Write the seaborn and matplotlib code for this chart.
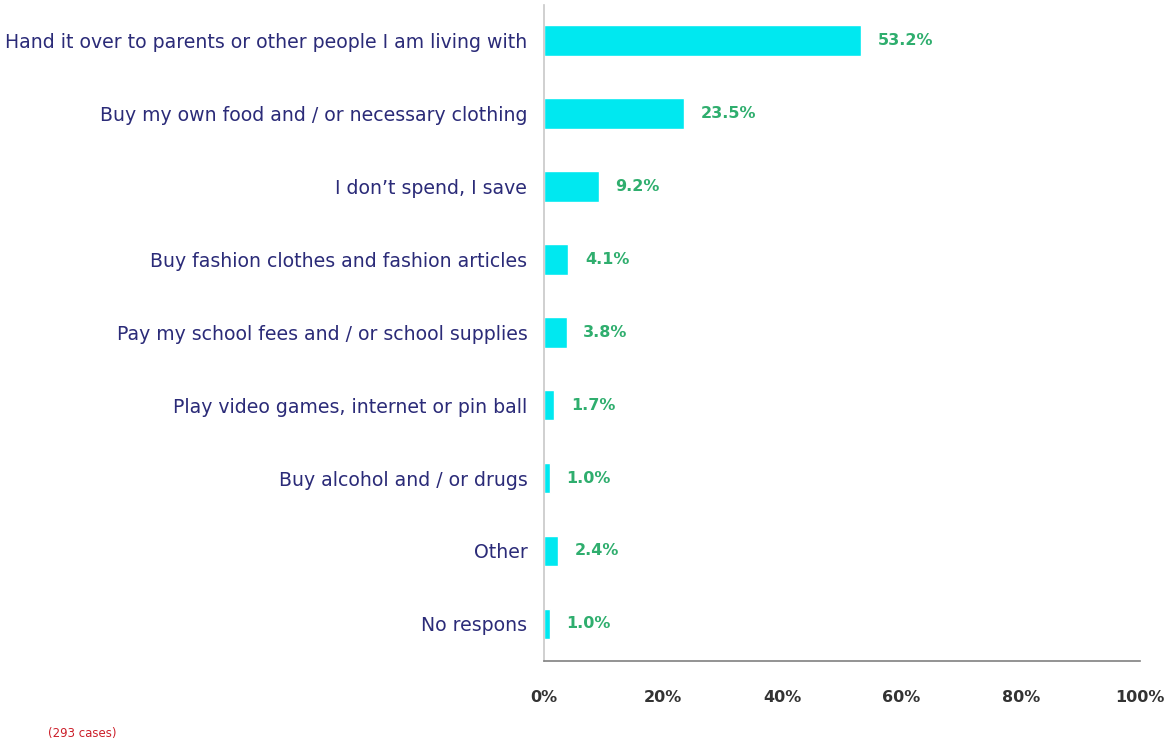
import matplotlib
matplotlib.use("Agg")
import matplotlib.pyplot as plt
import seaborn as sns
import pandas as pd

categories = [
    "Hand it over to parents or other people I am living with",
    "Buy my own food and / or necessary clothing",
    "I don\u2019t spend, I save",
    "Buy fashion clothes and fashion articles",
    "Pay my school fees and / or school supplies",
    "Play video games, internet or pin ball",
    "Buy alcohol and / or drugs",
    "Other",
    "No respons",
]
shares = [53.2, 23.5, 9.2, 4.1, 3.8, 1.7, 1.0, 2.4, 1.0]
x_ticks = [0, 20, 40, 60, 80, 100]
note = "(293 cases)"

df = pd.DataFrame({"category": categories, "share": shares})

sns.set_theme(style="white")
plt.rcParams["font.family"] = ["DejaVu Sans"]

fig = plt.figure(figsize=(11.71, 7.49), dpi=100)
ax = fig.add_axes([544 / 1171, 1 - 661 / 749, (1140 - 544) / 1171, (661 - 5) / 749])

sns.barplot(data=df, x="share", y="category", color="#00e8f0", saturation=1,
            width=0.42, ax=ax, orient="h")

ax.set_xlim(0, 100)
ax.set_ylim(8.51, -0.49)
ax.set_xticks(x_ticks)
ax.set_xticklabels([f"{t}%" for t in x_ticks], fontsize=11.5, fontweight="bold",
                   color="#333333")
ax.tick_params(axis="x", length=0, pad=21)
ax.tick_params(axis="y", length=0, pad=12, labelsize=13.6, labelcolor="#2b2b78")
ax.set_xlabel("")
ax.set_ylabel("")

for s in ["top", "right"]:
    ax.spines[s].set_visible(False)
ax.spines["left"].set_color("#c8c8c8")
ax.spines["left"].set_linewidth(1.2)
ax.spines["bottom"].set_color("#808080")
ax.spines["bottom"].set_linewidth(1.2)

for i, v in enumerate(shares):
    ax.annotate(f"{v:.1f}%", xy=(v, i), xytext=(12, 0), textcoords="offset points",
                va="center", ha="left", fontsize=11.5, fontweight="bold",
                color="#2fae6e")

fig.text(48 / 1171, 1 - 733 / 749, note, fontsize=8.5, color="#cc1f2a", va="center")

fig.savefig("out.png", dpi=100)
